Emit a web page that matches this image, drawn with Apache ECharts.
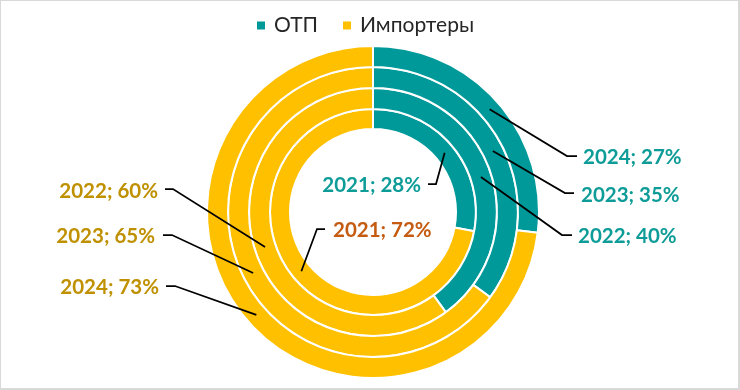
<!DOCTYPE html>
<html><head><meta charset="utf-8">
<script src="https://cdn.jsdelivr.net/npm/echarts@6/dist/echarts.min.js"></script>
<style>
html,body{margin:0;padding:0;background:#fff}
#c{width:740px;height:390px;position:absolute;left:0;top:0}
#frame{position:absolute;left:0;top:0;width:740px;height:390px;box-sizing:border-box;border-style:solid;border-color:#D9D9D9;border-width:1px 2px 2px 1px;pointer-events:none}
</style>
</head><body><div id="c"></div><div id="frame"></div>
<script>
// ---- data ----
const years = ['2021', '2022', '2023', '2024'];
const seriesNames = ['ОТП', 'Импортеры'];
const otp = [28, 40, 35, 27];
const importers = [72, 60, 65, 73];

// ---- styling / layout ----
const colors = ['#00999A', '#FFC000'];
const center = [373, 212];
const rings = [[83, 103], [103, 124], [124, 145], [145, 166]];
const labelColors = [['#0E9C98', '#C55A11'], ['#0E9C98', '#BF9000'], ['#0E9C98', '#BF9000'], ['#0E9C98', '#BF9000']];
const labelCfg = [
  [{x: 421, y: 185, align: 'right', elbow: [436, 184], end: [428, 184]},
   {x: 333, y: 230, align: 'left', elbow: [317, 229], end: [325, 229]}],
  [{x: 578, y: 236, align: 'left', elbow: [562, 235], end: [572, 235]},
   {x: 158, y: 191, align: 'right', elbow: [173, 189], end: [165, 189]}],
  [{x: 581, y: 195, align: 'left', elbow: [565, 193], end: [574, 193]},
   {x: 155, y: 236, align: 'right', elbow: [172, 235], end: [163, 235]}],
  [{x: 583, y: 157, align: 'left', elbow: [567, 156], end: [577, 156]},
   {x: 159, y: 287, align: 'right', elbow: [175, 286], end: [166, 286]}]
];
const labelFont = 'Lato, "Open Sans", sans-serif';

function makeLayout(s) {
  return function (p) {
    const d = p.dataIndex;
    const cfg = labelCfg[s][d];
    const vals = [otp[s], importers[s]];
    const total = vals[0] + vals[1];
    const startFrac = d === 0 ? 0 : vals[0] / total;
    const ang = (startFrac + vals[d] / total / 2) * 2 * Math.PI;
    const rm = (rings[s][0] + rings[s][1]) / 2;
    const sx = center[0] + rm * Math.sin(ang);
    const sy = center[1] - rm * Math.cos(ang);
    return {
      x: cfg.x, y: cfg.y, align: cfg.align, verticalAlign: 'middle',
      labelLinePoints: [[sx, sy], cfg.elbow, cfg.end]
    };
  };
}

// ring series (no labels)
const ringSeries = years.map((y, i) => ({
  type: 'pie',
  name: y,
  center: center,
  radius: rings[i],
  startAngle: 90,
  clockwise: true,
  silent: true,
  z: 2,
  itemStyle: {borderColor: '#ffffff', borderWidth: 2},
  label: {show: false},
  labelLine: {show: false},
  data: [
    {name: seriesNames[0], value: otp[i], itemStyle: {color: colors[0]}},
    {name: seriesNames[1], value: importers[i], itemStyle: {color: colors[1]}}
  ]
}));

// label-only overlay series (transparent sectors) so leader lines draw on top
const labelSeries = years.map((y, i) => ({
  type: 'pie',
  name: y + ' labels',
  center: center,
  radius: rings[i],
  startAngle: 90,
  clockwise: true,
  silent: true,
  legendHoverLink: false,
  z: 5,
  avoidLabelOverlap: false,
  itemStyle: {color: 'rgba(0,0,0,0)', borderWidth: 0},
  label: {
    show: true,
    position: 'outside',
    fontFamily: labelFont,
    fontWeight: 'bold',
    fontSize: 20.5,
    formatter: (p) => y + '; ' + p.value + '%'
  },
  labelLine: {show: true, lineStyle: {color: '#000000', width: 1.75}},
  labelLayout: makeLayout(i),
  data: [
    {name: seriesNames[0], value: otp[i], label: {color: labelColors[i][0]}},
    {name: seriesNames[1], value: importers[i], label: {color: labelColors[i][1]}}
  ]
}));

const chart = echarts.init(document.getElementById('c'), null, {renderer: 'canvas'});
chart.setOption({
  animation: false,
  color: colors,
  legend: {
    data: seriesNames.map((n, k) => ({name: n, itemStyle: {color: colors[k]}})),
    left: 255,
    top: 15,
    padding: 0,
    icon: 'rect',
    itemWidth: 10,
    itemHeight: 10,
    itemGap: 23,
    textStyle: {fontFamily: labelFont, fontSize: 21, color: '#262626', padding: [0, 0, 0, 3]}
  },
  series: ringSeries.concat(labelSeries)
});
</script>
</body></html>
